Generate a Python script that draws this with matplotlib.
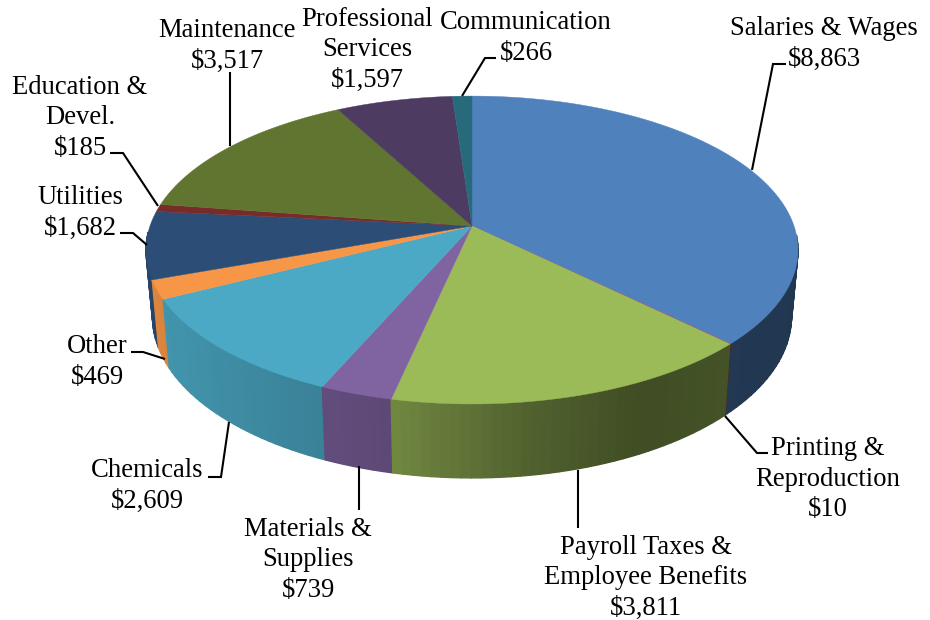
import numpy as np
import matplotlib
matplotlib.use("Agg")
import matplotlib.pyplot as plt
from matplotlib.collections import PolyCollection
from matplotlib.patches import Polygon

categories = ["Salaries & Wages", "Printing &\nReproduction",
              "Payroll Taxes &\nEmployee Benefits", "Materials &\nSupplies",
              "Chemicals", "Other", "Utilities", "Education &\nDevel.",
              "Maintenance", "Professional\nServices", "Communication"]
values = [8863, 10, 3811, 739, 2609, 469, 1682, 185, 3517, 1597, 266]
colors = ["#4F81BD", "#C0504D", "#9BBB59", "#8064A2", "#4BA9C5", "#F79646",
          "#2C4D75", "#772C2A", "#5F7530", "#4D3B62", "#276A7C"]

# Label block centres and leader polylines, in figure pixels
label_pos = [(824, 44), (828, 479), (646, 578), (308, 560), (147, 486),
             (97, 362), (80, 213), (80, 118), (227, 46), (367, 50), (526, 38)]
leaders = [[(752, 170), (773, 64), (786, 64)],
           [(725, 416), (757, 453), (768, 453)],
           [(577.5, 470), (577.5, 528)],
           [(359, 466), (359, 510)],
           [(229, 422), (221, 477), (208, 477)],
           [(165, 359), (143, 352), (131, 352)],
           [(147, 245), (133, 233), (120, 233)],
           [(158, 206), (123, 153), (110, 153)],
           [(230, 146), (230, 72)],
           None,
           [(462, 96), (485, 58), (496, 58)]]

# Perspective of the disc: top face and the slightly smaller bottom face
CX, CY = 472.0, 226.0
SX, SY, PERSP = 322.0, 150.2, 0.156
BOTTOM_SCALE, DROP = 0.98, 65.4


def top_face(theta):
    u, v = np.sin(theta), np.cos(theta)
    w = 1 + PERSP * v
    return CX + SX * u / w, CY - SY * v / w


def bottom_face(theta):
    u, v = np.sin(theta), np.cos(theta)
    w = 1 + PERSP * v
    return (CX + BOTTOM_SCALE * SX * u / w,
            CY + (DROP - BOTTOM_SCALE * SY * v) / w)


def side_shade(theta):
    # Rim lighting falls off from the left of the disc towards the right
    return np.interp(np.sin(theta), [-1, -0.75, -0.2, 0.15, 0.45, 0.7, 1],
                     [0.90, 0.85, 0.72, 0.52, 0.41, 0.44, 0.42])


fig = plt.figure(figsize=(9.3, 6.2), dpi=100)
ax = fig.add_axes([0, 0, 1, 1])
ax.set_xlim(0, 930)
ax.set_ylim(620, 0)
ax.axis("off")

edges = np.cumsum([0] + values) / sum(values) * 2 * np.pi

# Rim strips, near half only since the far half sits behind the top face
polys, faces, depth = [], [], []
for start, end, col in zip(edges[:-1], edges[1:], colors):
    rgb = np.array(matplotlib.colors.to_rgb(col))
    n = max(int((end - start) / np.radians(1.5)), 1)
    steps = np.linspace(start, end, n + 1)
    for a, b in zip(steps[:-1], steps[1:]):
        if np.cos((a + b) / 2) > -0.05:
            continue
        fine = np.linspace(a, b, 5)
        tx, ty = top_face(fine)
        bx, by = bottom_face(fine[::-1])
        polys.append(np.column_stack([np.r_[tx, bx], np.r_[ty, by]]))
        faces.append(np.clip(rgb * side_shade((a + b) / 2), 0, 1))
        depth.append(np.cos((a + b) / 2))
order = np.argsort(depth)[::-1]
rim = PolyCollection([polys[i] for i in order],
                     facecolors=[faces[i] for i in order],
                     edgecolors=[faces[i] for i in order], linewidths=1.0)
ax.add_collection(rim)

# Top face of each slice
for start, end, col in zip(edges[:-1], edges[1:], colors):
    n = max(int((end - start) / np.radians(0.5)), 2)
    px, py = top_face(np.linspace(start, end, n + 1))
    pts = np.column_stack([np.r_[CX, px], np.r_[CY, py]])
    ax.add_patch(Polygon(pts, closed=True, facecolor=col, edgecolor=col,
                         linewidth=0.3, zorder=3))

# Labels and leader lines
for name, val, (tx, ty), line in zip(categories, values, label_pos, leaders):
    ax.text(tx, ty, f"{name}\n${val:,}", ha="center", va="center",
            family="Liberation Serif", fontsize=19.2, linespacing=1.27,
            color="black", zorder=5)
    if line is not None:
        lx, ly = zip(*line)
        ax.plot(lx, ly, color="black", lw=1.5, solid_joinstyle="miter",
                solid_capstyle="butt", zorder=4)

fig.savefig("out.png", dpi=100, facecolor="white")
